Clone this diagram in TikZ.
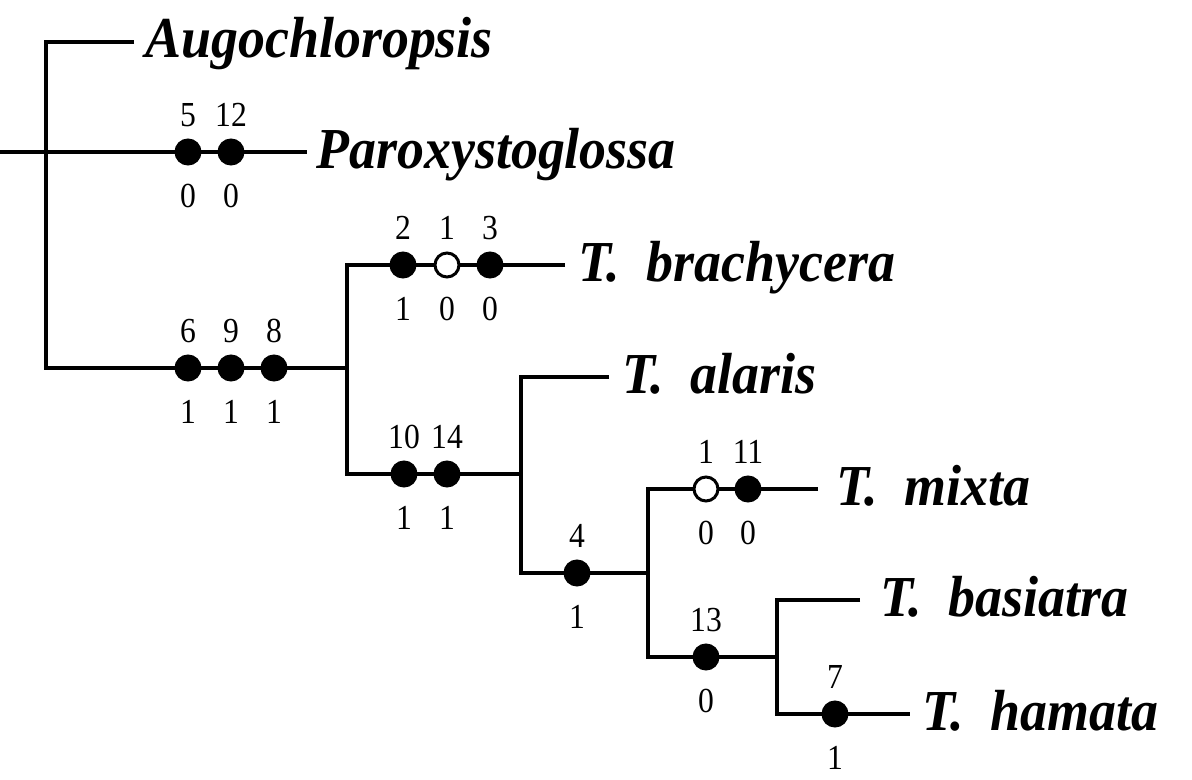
\documentclass[tikz,border=0pt]{standalone}
\usepackage{fontspec}
\setmainfont{Liberation Serif}
\usepackage{graphicx}
\usepackage{tikz}
\usetikzlibrary{positioning}
\newcommand{\taxname}[1]{\scalebox{0.93}[1]{#1}}
\newcommand{\cnum}[1]{\scalebox{0.9}[1]{#1}}

\begin{document}
\begin{tikzpicture}[x=0.02cm, y=-0.02cm,
  branch/.style={line width=2.4pt, draw=black},
  taxon/.style={anchor=base west, inner sep=0pt, font=\fontsize{33}{38}\selectfont\bfseries\itshape},
  num/.style={inner sep=0pt, font=\fontsize{20}{24}\selectfont},
  apo/.style={circle, draw=black, fill=black, line width=1.7pt, minimum size=0.48cm, inner sep=0pt},
  rev/.style={apo, fill=white},
  up/.style={label={[num, label distance=0.23cm]above:\cnum{#1}}},
  dn/.style={label={[num, label distance=0.37cm]below:\cnum{#1}}}
]
\useasboundingbox (0,0) rectangle (1192,780);

% internal nodes
\coordinate (root) at (0,152);
\coordinate (nA) at (46,152);
\coordinate (nB) at (347,368);
\coordinate (nC) at (521,474);
\coordinate (nD) at (648,573);
\coordinate (nE) at (777,657);

% branch tips
\coordinate (augoEnd) at (134,41.7);
\coordinate (paroEnd) at (307,152);
\coordinate (brachyEnd) at (565,265);
\coordinate (alarisEnd) at (609,377);
\coordinate (mixtaEnd) at (818,489);
\coordinate (basiEnd) at (860,600);
\coordinate (hamaEnd) at (910,714);

% tree
\draw[branch] (root) -- (nA) -- (paroEnd);
\draw[branch] (augoEnd) -| (nA) |- (nB);
\draw[branch] (brachyEnd) -| (nB) |- (nC);
\draw[branch] (alarisEnd) -| (nC) |- (nD);
\draw[branch] (mixtaEnd) -| (nD) |- (nE);
\draw[branch] (basiEnd) -| (nE) |- (hamaEnd);

% taxa
\node[taxon] (augo) at (145,57.7) {\taxname{Augochloropsis}};
\node[taxon] (paro) at (316,169) {\taxname{Paroxystoglossa}};
\node[taxon] (brachy) at (578,281) {\taxname{T.\ \ brachycera}};
\node[taxon] (alaris) at (622,393) {\taxname{T.\ \ alaris}};
\node[taxon] (mixta) at (836,505) {\taxname{T.\ \ mixta}};
\node[taxon] (basi) at (880,616) {\taxname{T.\ \ basiatra}};
\node[taxon] (hama) at (922,730) {\taxname{T.\ \ hamata}};

% character changes
\node[apo, up=5, dn=0] (c5) at (188,152) {};
\node[apo, up=12, dn=0] (c12) at (231,152) {};
\node[apo, up=6, dn=1] (c6) at (188,368) {};
\node[apo, up=9, dn=1] (c9) at (231,368) {};
\node[apo, up=8, dn=1] (c8) at (274,368) {};
\node[apo, up=2, dn=1] (c2) at (403,265) {};
\node[rev, up=1, dn=0] (c1a) at (447,265) {};
\node[apo, up=3, dn=0] (c3) at (490,265) {};
\node[apo, up=10, dn=1] (c10) at (404,474) {};
\node[apo, up=14, dn=1] (c14) at (447,474) {};
\node[apo, up=4, dn=1] (c4) at (577,573) {};
\node[rev, up=1, dn=0] (c1b) at (706,489) {};
\node[apo, up=11, dn=0] (c11) at (748,489) {};
\node[apo, up=13, dn=0] (c13) at (706,657) {};
\node[apo, up=7, dn=1] (c7) at (835,714) {};
\end{tikzpicture}
\end{document}
